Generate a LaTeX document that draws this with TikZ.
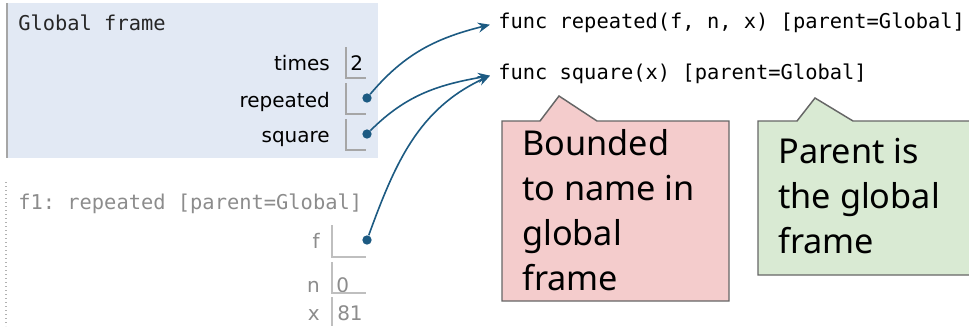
\documentclass[tikz,border=0pt]{standalone}
\usepackage{fontspec}
\setmainfont{DejaVu Sans}
\setmonofont{DejaVu Sans Mono}
\newfontfamily\notefont{Noto Sans}
\usetikzlibrary{positioning, calc, arrows.meta}
\definecolor{framebg}{RGB}{226,233,244}
\definecolor{ptrcol}{RGB}{28,90,130}
\definecolor{notered}{RGB}{244,204,204}
\definecolor{notegreen}{RGB}{217,234,211}
\tikzstyle{varname} = [anchor=base east, inner sep=0pt, font=\fontsize{15}{18}\selectfont]
\tikzstyle{varval} = [anchor=base west, inner sep=0pt, font=\fontsize{15}{18}\selectfont]
\tikzstyle{slot} = [draw=black!35, line width=1.1pt]
\tikzstyle{ptr} = [circle, fill=ptrcol, inner sep=0pt, minimum size=7pt]
\tikzstyle{arrow} = [ptrcol, line width=1.2pt, -{Stealth[length=9pt,width=7.5pt,inset=3pt]}]
\tikzstyle{code} = [anchor=base west, inner sep=0pt, font=\ttfamily\fontsize{15.3}{18}\selectfont]
\tikzstyle{func} = [code, inner xsep=6pt]
\tikzstyle{note} = [draw=black!60, line width=1.1pt]
\tikzstyle{notetext} = [anchor=north west, inner sep=0pt, align=left, font=\notefont\fontsize{25.7}{33.75}\selectfont]

\begin{document}
\begin{tikzpicture}[x=0.75pt, y=-0.75pt]
\useasboundingbox (0,0) rectangle (969,326);
% global frame
\fill[framebg] (7,3) rectangle (378,158);
\draw[black!35, line width=1.5pt] (7,3) -- (7,158);
\node (gf) [code, text=black!85] at (18,30) {Global frame};
\node (times) [varname] at (330,70) {times};
\node (rep) [varname] at (330,107) {repeated};
\node (sq) [varname] at (330,142) {square};
\node (two) [varval] at (350,70) {2};
\draw[slot] (346,47) |- (366,78);
\draw[slot] (346,83) |- (366,114);
\draw[slot] (346,119) |- (366,150);
\node (prep) [ptr] at (367,98) {};
\node (psq) [ptr] at (367,134) {};
% f1 frame
\draw[black!30, line width=1pt, dotted] (6,182) -- (6,326);
\node (f1) [code, text=black!45] at (18,209) {f1: repeated [parent=Global]};
\node (fn) [varname, text=black!45] at (320,248) {f};
\node (nn) [varname, text=black!45] at (320,292) {n};
\node (xn) [varname, text=black!45] at (320,320) {x};
\node (zero) [varval, text=black!45] at (336,292) {0};
\node (eightyone) [varval, text=black!45] at (337,320) {81};
\draw[slot, draw=black!25] (332,225) |- (366,257);
\draw[slot, draw=black!25] (332,262) |- (366,293);
\draw[slot, draw=black!25] (332,297) -- (332,326);
\node (pf) [ptr] at (367,240) {};
% function objects
\node (frep) [func] at (490,28) {func repeated(f, n, x) [parent=Global]};
\node (fsq) [func] at (490,79) {func square(x) [parent=Global]};
\draw [arrow] (prep) to[out=50, in=194] ([yshift=2.5pt]frep.base west);
\draw [arrow] (psq) to[out=45, in=190] ([yshift=2.5pt]fsq.base west);
\draw [arrow] (pf) to[out=70, in=205] ([yshift=2.5pt]fsq.base west);
% callouts
\draw[note, fill=notered] (502,121) -- (540,121) -- (559,96) -- (597,121) -- (729,121) -- (729,301) -- (502,301) -- cycle;
\node (bnd) [notetext] at (522,129) {Bounded\\to name in\\global\\frame};
\draw[note, fill=notegreen] (758,121) -- (797,121) -- (815,98) -- (853,121) -- (975,121) -- (975,275) -- (758,275) -- cycle;
\node (par) [notetext] at (778,138) {Parent is\\the global\\frame};
\end{tikzpicture}
\end{document}
